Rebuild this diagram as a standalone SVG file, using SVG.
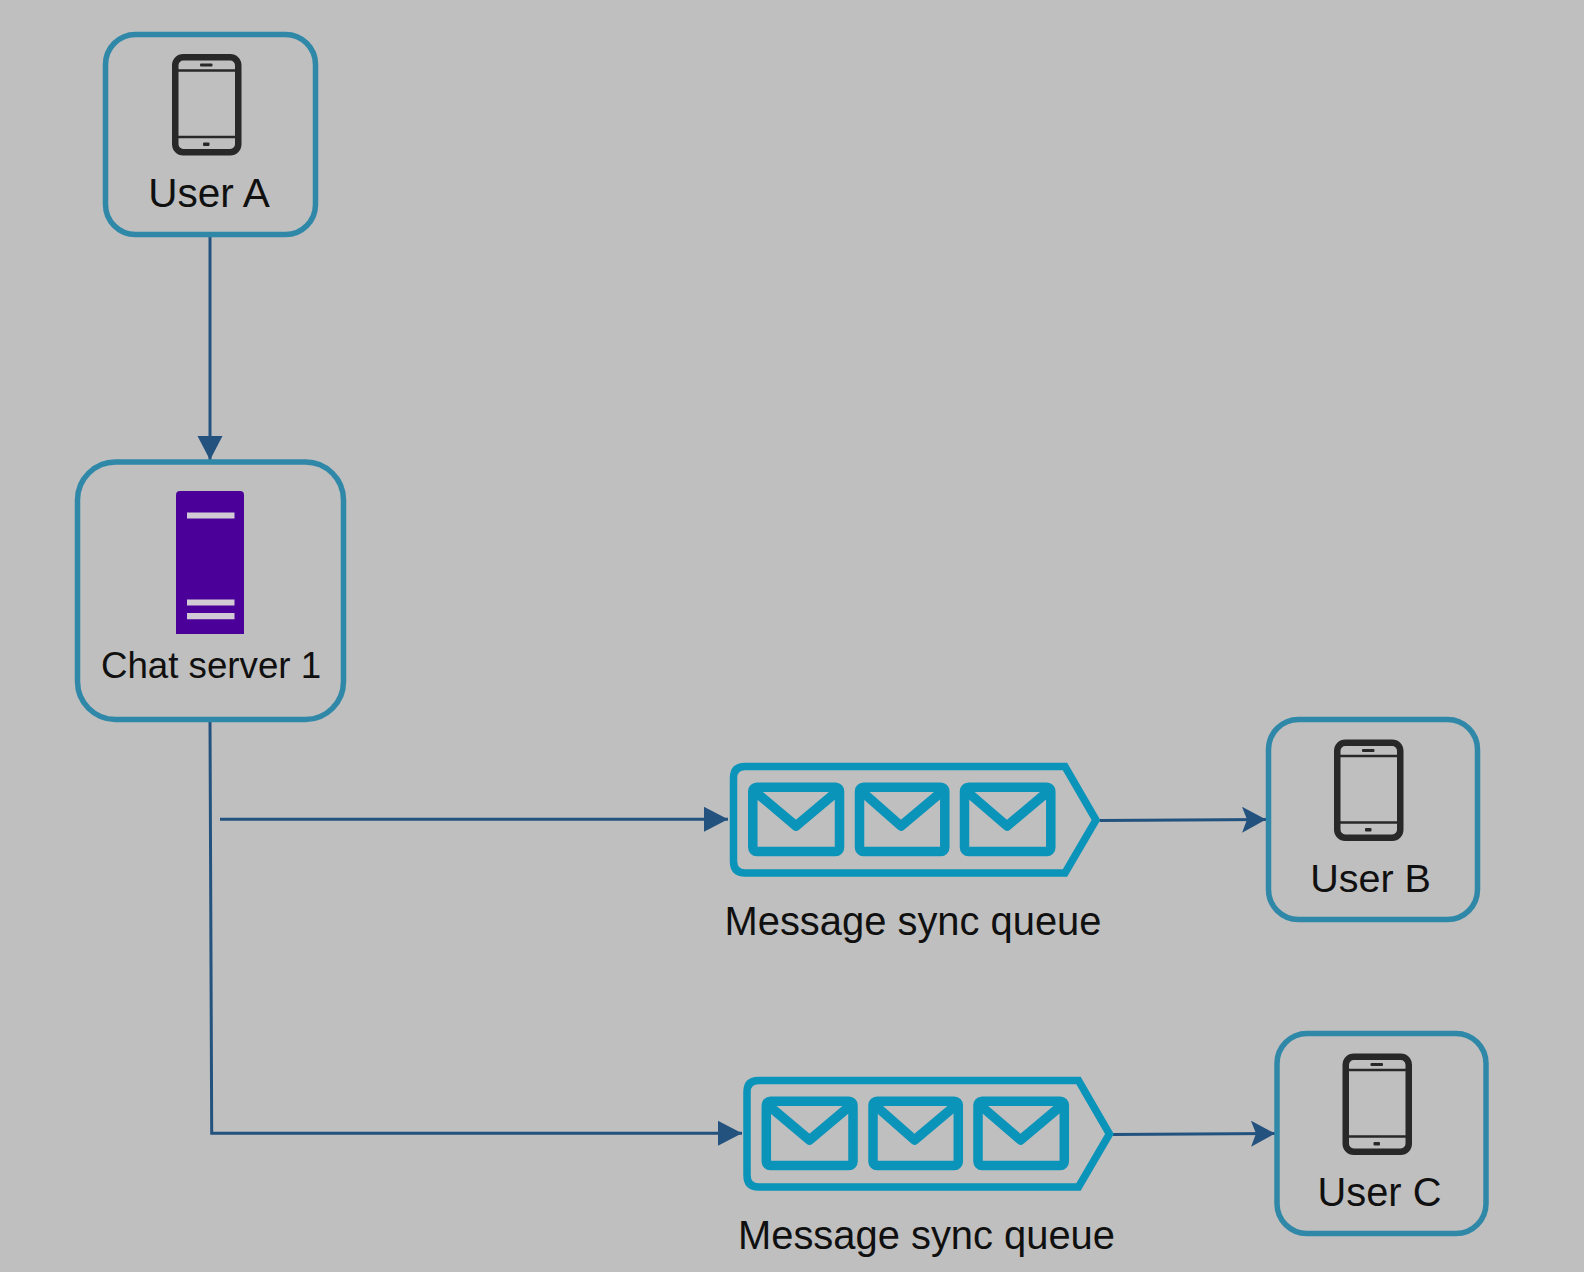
<svg xmlns="http://www.w3.org/2000/svg" xmlns:xlink="http://www.w3.org/1999/xlink" width="1584" height="1272" viewBox="0 0 1584 1272">
<style>
.box{fill:none;stroke:#2f88a8;stroke-width:5.500}
.t{font-family:"Liberation Sans",Arial,sans-serif;fill:#101010;text-anchor:middle}
.c{fill:none;stroke:#23527f;stroke-width:3}
.q{fill:none;stroke:#0a94ba;stroke-width:7.500;stroke-linejoin:miter}
.e{fill:none;stroke:#0a94ba;stroke-width:9.500;stroke-linejoin:round}
.f{fill:none;stroke:#0a94ba;stroke-width:9.500;stroke-linejoin:round}
.p{fill:none;stroke:#282828;stroke-width:6.500}
.l{fill:none;stroke:#282828;stroke-width:2.500}
.d{fill:#282828}
</style>
<defs>
<marker id="ah" markerUnits="userSpaceOnUse" markerWidth="26" markerHeight="26" refX="24" refY="12.500" orient="auto"><path d="M0 0L24 12.500L0 25Z" fill="#23527f"/></marker>
<marker id="an" markerUnits="userSpaceOnUse" markerWidth="26" markerHeight="28" refX="24" refY="13" orient="auto"><path d="M0 0L24 13L0 26L5 13Z" fill="#23527f"/></marker>
<g id="phone">
<rect x="3.250" y="3.250" width="63" height="95" rx="8" class="p"/>
<path d="M3 16.500H66M3 83H66" class="l"/>
<rect x="28" y="9.500" width="12.500" height="3" rx="1" class="d"/>
<rect x="31" y="88.500" width="6.500" height="3.500" rx="1" class="d"/>
</g>
<g id="queue">
<path d="M745 766.500H1065L1096 820L1065 873H745Q733.500 873 733.500 861V778Q733.500 766.500 745 766.500Z" class="q"/>
<rect x="752.800" y="787.200" width="86.700" height="64.300" rx="4" class="e"/>
<path d="M752 789L796 826L840 789" class="f"/>
<rect x="859.500" y="787.200" width="85.300" height="64.300" rx="4" class="e"/>
<path d="M859 789L901 826L945 789" class="f"/>
<rect x="964.500" y="787.200" width="86.300" height="64.300" rx="4" class="e"/>
<path d="M964 789L1007 826L1051 789" class="f"/>
</g>
</defs>
<rect width="1584" height="1272" fill="#bfbfbf"/>
<g id="connectors">
<path d="M210 236V460" class="c" marker-end="url(#ah)"/>
<path d="M210 721L211.700 1133.300H742" class="c" marker-end="url(#ah)"/>
<path d="M220 819.300H728" class="c" marker-end="url(#ah)"/>
<path d="M1099.500 820.500L1266 819.500" class="c" marker-end="url(#an)"/>
<path d="M1113 1134.500L1275 1133.500" class="c" marker-end="url(#an)"/>
</g>
<g id="user-a">
<rect x="105.500" y="34.500" width="210" height="200" rx="30" class="box"/>
<use xlink:href="#phone" href="#phone" x="172" y="54"/>
<text x="209" y="206.500" font-size="40.500" class="t">User A</text>
</g>
<g id="chat-server-1">
<rect x="77.500" y="462" width="266" height="257.500" rx="38" class="box"/>
<path d="M176 495Q176 491 180 491H240Q244 491 244 495V634H176Z" fill="#4a0099"/>
<path d="M187 512.500H234.500V518.500H187ZM187 599.500H234.500V605.500H187ZM187 613H234.500V619.300H187Z" fill="#d2cbd6"/>
<text x="211" y="677.500" font-size="36.700" class="t">Chat server 1</text>
</g>
<g id="queue-b">
<use xlink:href="#queue" href="#queue"/>
<text x="913" y="934.500" font-size="39.900" class="t">Message sync queue</text>
</g>
<g id="user-b">
<rect x="1268.500" y="719.500" width="209" height="200" rx="30" class="box"/>
<use xlink:href="#phone" href="#phone" x="1334" y="739.500"/>
<text x="1370.500" y="891.500" font-size="39.500" class="t">User B</text>
</g>
<g id="queue-c">
<use xlink:href="#queue" href="#queue" x="13.500" y="314"/>
<text x="926.500" y="1248.500" font-size="39.900" class="t">Message sync queue</text>
</g>
<g id="user-c">
<rect x="1277" y="1033.500" width="209" height="200" rx="30" class="box"/>
<use xlink:href="#phone" href="#phone" x="1342.500" y="1053.500"/>
<text x="1379.500" y="1205.500" font-size="39.800" class="t">User C</text>
</g>
</svg>
